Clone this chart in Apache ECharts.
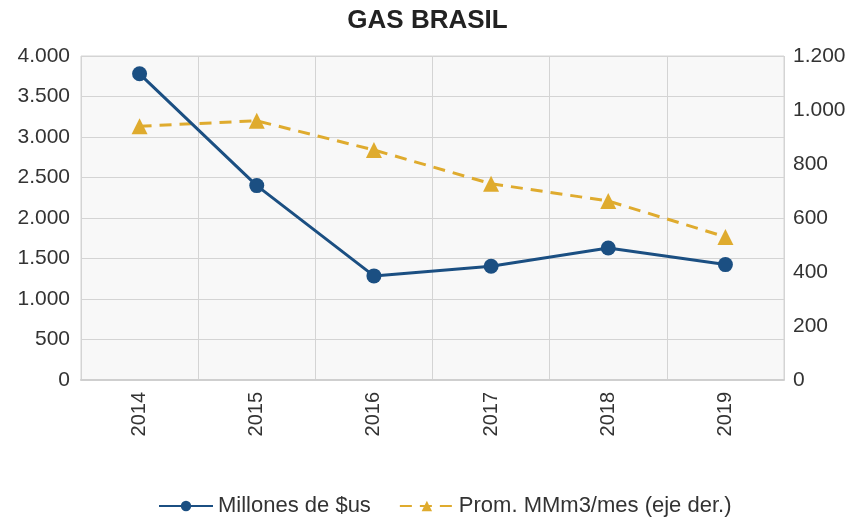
<!DOCTYPE html>
<html>
<head>
<meta charset="utf-8">
<script src="https://cdn.jsdelivr.net/npm/echarts@6/dist/echarts.min.js"></script>
<style>html,body{margin:0;padding:0;background:#fff;}#c{width:855px;height:518px;}</style>
</head>
<body>
<div id="c"></div>
<script>
const categories = ['2014', '2015', '2016', '2017', '2018', '2019'];
const millones = [3780, 2400, 1285, 1405, 1630, 1425];
const prom = [940, 960, 852, 727, 663, 530];
const seriesNames = ['Millones de $us', 'Prom. MMm3/mes (eje der.)'];
const title = 'GAS BRASIL';

const fmt = v => String(v).replace(/\B(?=(\d{3})+(?!\d))/g, '.');
const chart = echarts.init(document.getElementById('c'));
chart.setOption({
  animation: false,
  backgroundColor: '#ffffff',
  title: {
    text: title, left: 'center', top: 3,
    textStyle: { fontFamily: 'Liberation Sans', fontSize: 26, fontWeight: 'bold', color: '#222' }
  },
  legend: {
    top: 490, left: 153, itemWidth: 54, itemHeight: 13, itemGap: 28,
    textStyle: { fontFamily: 'Liberation Sans', fontSize: 22, color: '#333' },
    data: seriesNames
  },
  grid: { left: 81, right: 71, top: 56, bottom: 138, show: true, backgroundColor: '#f8f8f8', borderColor: '#d4d4d4', borderWidth: 1 },
  xAxis: {
    type: 'category', data: categories, boundaryGap: true,
    axisLine: { show: true, lineStyle: { color: '#cfcfcf', width: 2 } },
    axisTick: { show: false },
    splitLine: { show: true, lineStyle: { color: '#d4d4d4', width: 1 } },
    axisLabel: { rotate: 90, fontFamily: 'Liberation Sans', fontSize: 20, color: '#333', margin: 12 }
  },
  yAxis: [
    { type: 'value', min: 0, max: 4000, interval: 500,
      axisLine: { show: false }, axisTick: { show: false },
      splitLine: { lineStyle: { color: '#d4d4d4', width: 1 } },
      axisLabel: { formatter: fmt, fontFamily: 'Liberation Sans', fontSize: 21, color: '#333', margin: 11 } },
    { type: 'value', min: 0, max: 1200, interval: 200, position: 'right',
      axisLine: { show: false }, axisTick: { show: false }, splitLine: { show: false },
      axisLabel: { formatter: fmt, fontFamily: 'Liberation Sans', fontSize: 21, color: '#333', margin: 9 } }
  ],
  series: [
    { name: seriesNames[0], type: 'line', data: millones, yAxisIndex: 0,
      symbol: 'circle', symbolSize: 15,
      lineStyle: { color: '#1b4f82', width: 3 }, itemStyle: { color: '#1b4f82' }, z: 3 },
    { name: seriesNames[1], type: 'line', data: prom, yAxisIndex: 1,
      symbol: 'triangle', symbolSize: 16,
      lineStyle: { color: '#dfab2e', width: 3, type: [12, 8] }, itemStyle: { color: '#dfab2e' }, z: 2 }
  ]
});
</script>
</body>
</html>
